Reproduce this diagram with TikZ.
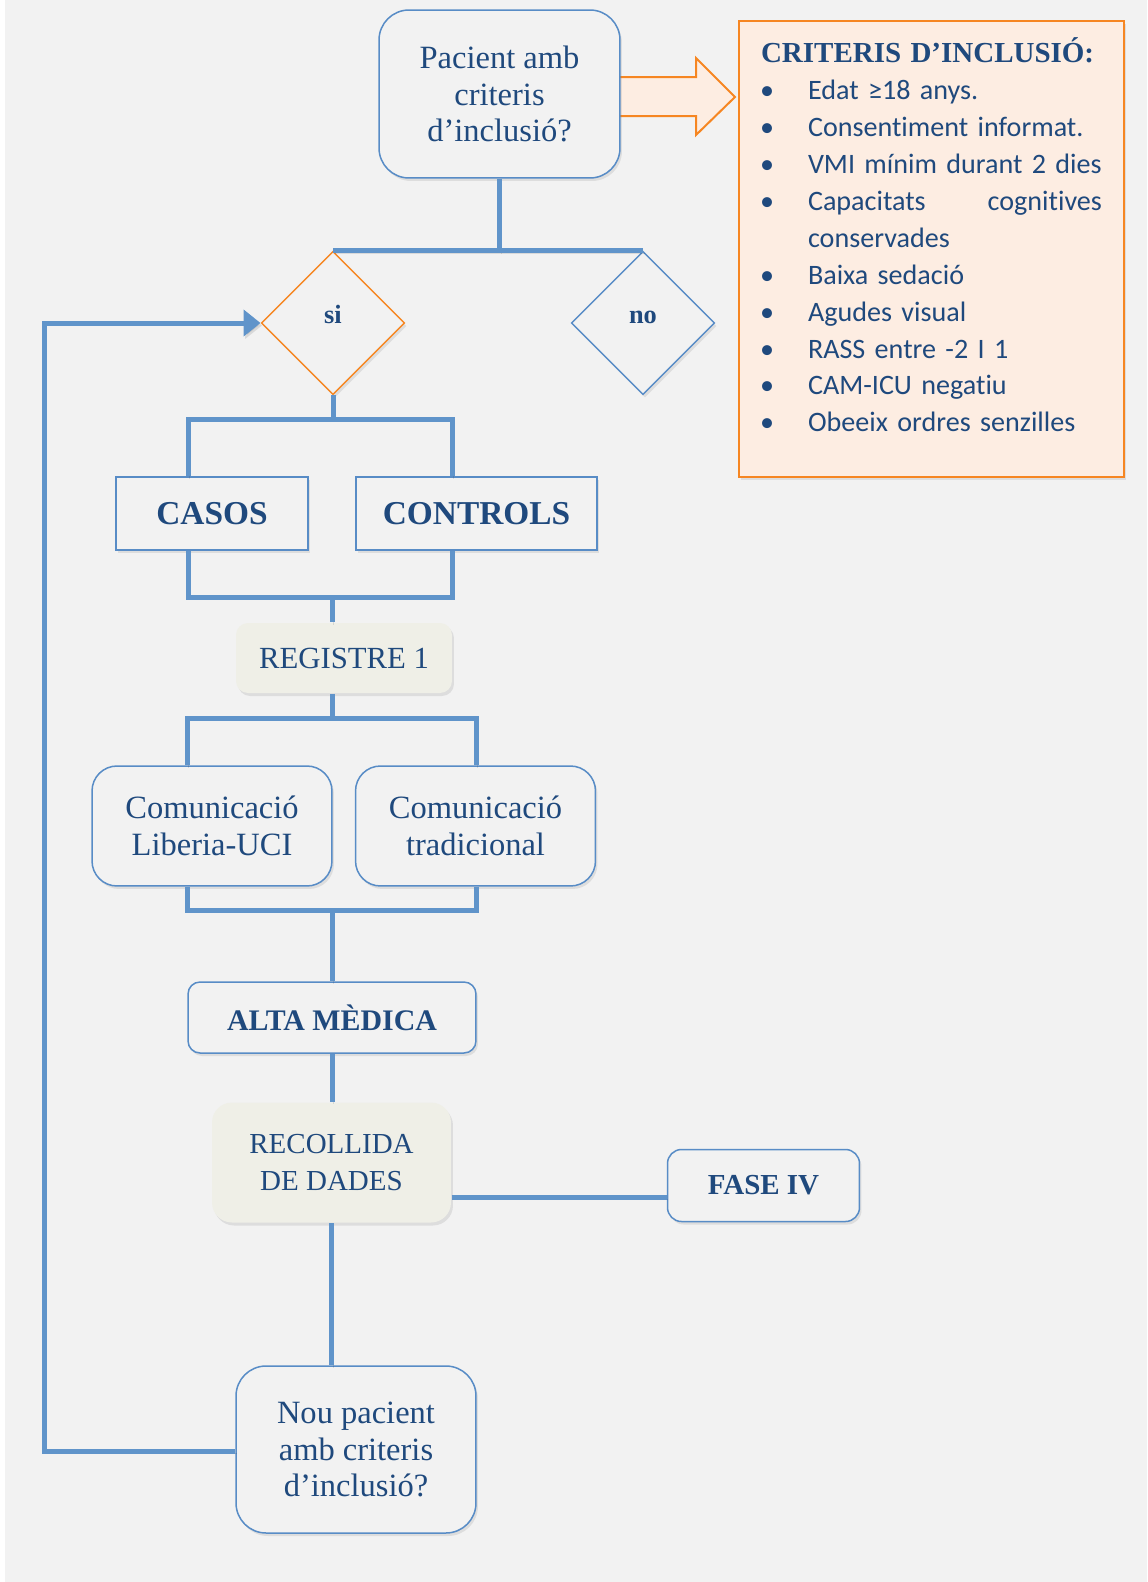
\documentclass[tikz,border=0pt]{standalone}
\usepackage{fontspec}
\setmainfont{Liberation Serif}
\newfontfamily\calibri[Ligatures=NoCommon]{Carlito}
\usetikzlibrary{shapes.geometric,shadows,arrows.meta}
\definecolor{bgc}{RGB}{242,242,242}
\definecolor{linec}{RGB}{96,148,202}
\definecolor{bordc}{RGB}{88,140,198}
\definecolor{txtc}{RGB}{31,73,125}
\definecolor{orc}{RGB}{246,134,34}
\definecolor{orfill}{RGB}{253,237,226}
\definecolor{beige}{RGB}{239,239,231}
\newcommand{\critem}[1]{\hspace*{-0.02cm}\makebox[0.96cm][l]{•}\mbox{#1}}

\begin{document}
\begin{tikzpicture}[x=0.02cm,y=-0.02cm]

\tikzstyle{conn}=[line width=0.1cm,linec,preaction={draw=black,opacity=0.1,transform canvas={xshift=0.03cm,yshift=-0.05cm}}];
\tikzstyle{box}=[draw=bordc,line width=0.03cm,fill=bgc,text=txtc,align=center,inner sep=0,drop shadow={opacity=0.18,shadow xshift=0.04cm,shadow yshift=-0.06cm}];
\tikzstyle{rbox}=[box,rounded corners=0.24cm];
\tikzstyle{dia}=[box,diamond,aspect=1,minimum size=2.87cm,text height=0.15cm,text depth=0.15cm,font=\fontsize{15}{18}\selectfont\bfseries];
\tikzstyle{txt}=[font=\fontsize{18.5}{21}\selectfont];

\fill[white] (0,0) rectangle (1147,1582);
\fill[bgc] (5,0) rectangle (1147,1582);
\useasboundingbox (0,0) rectangle (1147,1582);

\draw[orc,line width=0.04cm,fill=orfill] (610,77) -- (696,77) -- (696,58) -- (735,97) -- (696,135) -- (696,116) -- (610,116) -- cycle;

\node[rbox,txt,rounded corners=0.6cm,minimum width=4.82cm,minimum height=3.36cm] (v1) at (499.5,94) {Pacient amb\\criteris\\d’inclusió?};
\node[dia,draw=orc] (v2) at (333,323) {si};
\node[dia] (v3) at (643,323) {no};
\node[box,minimum width=3.84cm,minimum height=1.46cm,font=\fontsize{19}{22}\selectfont\bfseries] (v4) at (212,513.5) {CASOS};
\node[box,minimum width=4.82cm,minimum height=1.46cm,font=\fontsize{19}{22}\selectfont\bfseries] (v5) at (476.5,513.5) {CONTROLS};
\node[rbox,draw=none,fill=beige,minimum width=4.32cm,minimum height=1.4cm,font=\fontsize{17.5}{21}\selectfont] (v6) at (344,658) {REGISTRE 1};
\node[rbox,txt,rounded corners=0.5cm,minimum width=4.8cm,minimum height=2.4cm] (v7) at (212,826) {Comunicació\\Liberia-UCI};
\node[rbox,txt,rounded corners=0.5cm,minimum width=4.8cm,minimum height=2.4cm] (v8) at (475.5,826) {Comunicació\\tradicional};
\node[rbox,minimum width=5.76cm,minimum height=1.42cm,font=\fontsize{17}{21}\selectfont\bfseries] (v9) at (332,1017.5) {ALTA MÈDICA};
\node[rbox,draw=none,fill=beige,rounded corners=0.4cm,minimum width=4.78cm,minimum height=2.4cm,font=\fontsize{16.5}{21}\selectfont] (v10) at (331.5,1162.5) {RECOLLIDA\\DE DADES};
\node[rbox,rounded corners=0.28cm,minimum width=3.84cm,minimum height=1.44cm,font=\fontsize{16.5}{21}\selectfont\bfseries] (v11) at (763.5,1185.5) {FASE IV};
\node[rbox,txt,rounded corners=0.6cm,minimum width=4.8cm,minimum height=3.34cm] (v12) at (356,1449.5) {Nou pacient\\amb criteris\\d’inclusió?};

\node[box,draw=orc,fill=orfill,minimum width=7.7cm,minimum height=9.12cm,text width=6.82cm,align=left,font=\calibri\fontsize{16}{21}\selectfont] (v13) at (931.5,249) {%
{\rmfamily\fontsize{16.5}{21}\selectfont\bfseries CRITERIS D’INCLUSIÓ:}\\
\critem{Edat ≥18 anys.}\\
\critem{Consentiment informat.}\\
\critem{VMI mínim durant 2 dies}\\
\critem{\makebox[5.88cm][l]{Capacitats\hfill cognitives}}\\
\hspace*{0.94cm}conservades\\
\critem{Baixa sedació}\\
\critem{Agudes visual}\\
\critem{RASS entre -2 I 1}\\
\critem{CAM-ICU negatiu}\\
\critem{Obeeix ordres senzilles}\par\vspace{0.56cm}};

\coordinate (c1) at (188,419);
\coordinate (c2) at (452,419);
\coordinate (c3) at (188,597);
\coordinate (c4) at (452,597);
\coordinate (c5) at (332,597);
\coordinate (c6) at (332,718);
\coordinate (c7) at (187,718);
\coordinate (c8) at (476,718);
\coordinate (c9) at (187,910);
\coordinate (c10) at (476,910);
\coordinate (c11) at (600,1197);
\coordinate (c12) at (44,1451);
\coordinate (c13) at (44,323);

\draw[conn] (v1.south) |- (v2.north);
\draw[conn] (v1.south) |- (v3.north);
\draw[conn] (v2.south) -- (v2.south |- c1);
\draw[conn] (v4.north -| c1) -- (c1) -- (c2) -- (v5.north -| c2);
\draw[conn] (v4.south -| c3) -- (c3) -- (c4) -- (v5.south -| c4);
\draw[conn] (c5) -- (v6.north -| c5);
\draw[conn] (v6.south -| c6) -- (c6);
\draw[conn] (v7.north -| c7) -- (c7) -- (c8) -- (v8.north -| c8);
\draw[conn] (v7.south -| c9) -- (c9) -- (c10) -- (v8.south -| c10);
\draw[conn] (v9.north |- c9) -- (v9.north);
\draw[conn] (v9.south) -- (v10.north -| v9.south);
\draw[conn] (v10.east |- c11) -- (v11.west |- c11);
\draw[conn] (v10.south) -- (v12.north -| v10.south);
\draw[conn,-{Triangle[length=0.34cm,width=0.52cm]}] (v12.west |- c12) -- (c12) -- (c13) -- (v2.west);
\end{tikzpicture}
\end{document}
